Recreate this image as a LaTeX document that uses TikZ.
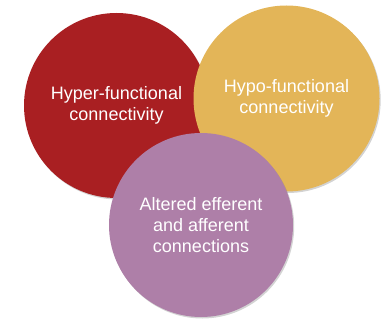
\documentclass[tikz,border=0pt]{standalone}
\usepackage{fontspec}
\setmainfont{Liberation Sans}
\usepackage{tikz}
\usetikzlibrary{shadows}

\definecolor{hyperred}{HTML}{A91F22}
\definecolor{hypoyellow}{HTML}{E3B558}
\definecolor{alteredpurple}{HTML}{AE7FA8}

\tikzset{
	bubble/.style={circle, inner sep=0pt, text=white, align=center,
		font=\fontsize{18}{21}\selectfont,
		drop shadow={shadow xshift=1.2pt, shadow yshift=-1.5pt, opacity=0.35}}
}

\begin{document}
\begin{tikzpicture}[x=1pt,y=-1pt]
		\useasboundingbox (0,0) rectangle (385,320);
		
		%Three overlapping circles
		\node[bubble, fill=hyperred, minimum size=185pt] (hyper) at (116.5,105.5) {Hyper-functional\\connectivity};
		\node[bubble, fill=hypoyellow, minimum size=186pt] (hypo) at (286.5,98.5) {Hypo-functional\\connectivity};
		\node[bubble, fill=alteredpurple, minimum size=184pt] (altered) at (201,225) {Altered efferent\\and afferent\\connections};
	\end{tikzpicture}
\end{document}
